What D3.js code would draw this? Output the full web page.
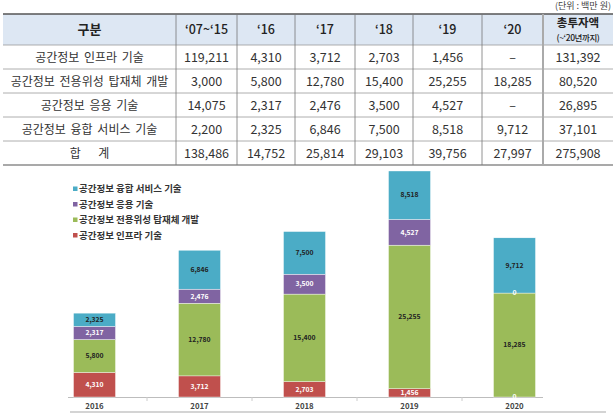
<!DOCTYPE html>
<html><head><meta charset="utf-8">
<script src="https://cdn.jsdelivr.net/npm/d3@7"></script>
<style>body{margin:0;background:#fff;} svg{display:block;font-family:"Noto Sans CJK KR","Noto Sans",sans-serif;}</style>
</head><body>
<svg id="c" width="615" height="419"></svg>
<script>
// ---- Table data ----
const periods = ["‘07~‘15", "‘16", "‘17", "‘18", "‘19", "‘20"];
const rowNames = ["공간정보 인프라 기술", "공간정보 전용위성 탑재체 개발", "공간정보 응용 기술", "공간정보 융합 서비스 기술", "합  계"];
const infraRow = [119211, 4310, 3712, 2703, 1456, null, 131392];
const satRow   = [3000, 5800, 12780, 15400, 25255, 18285, 80520];
const appRow   = [14075, 2317, 2476, 3500, 4527, null, 26895];
const convRow  = [2200, 2325, 6846, 7500, 8518, 9712, 37101];
const totalRow = [138486, 14752, 25814, 29103, 39756, 27997, 275908];

// ---- Chart data ----
const years = ["2016", "2017", "2018", "2019", "2020"];
const infraChart = [4310, 3712, 2703, 1456, 0];
const satChart   = [5800, 12780, 15400, 25255, 18285];
const appChart   = [2317, 2476, 3500, 4527, 0];
const convChart  = [2325, 6846, 7500, 8518, 9712];
const seriesNames = ["공간정보 인프라 기술", "공간정보 전용위성 탑재체 개발", "공간정보 응용 기술", "공간정보 융합 서비스 기술"];
const seriesColors = ["#c0504d", "#9bbb59", "#8064a2", "#4bacc6"];
const labelColors = ["#ffffff", "#222222", "#ffffff", "#222222"];

const svg = d3.select("#c");
const fmt = d3.format(",");

// ===== TABLE =====
svg.append("text").attr("x", 611).attr("y", 9).attr("text-anchor", "end")
  .attr("font-size", 9).attr("fill", "#444").text("(단위 : 백만 원)");

const colEdges = [3, 176, 237, 295, 355, 413, 482, 543, 613];
const rowEdges = [14, 45, 69, 93, 117, 141, 165];

svg.append("rect").attr("x", colEdges[0]).attr("y", rowEdges[0])
  .attr("width", colEdges[colEdges.length - 1] - colEdges[0]).attr("height", rowEdges[1] - rowEdges[0])
  .attr("fill", "#dde7f3");

rowEdges.forEach((y, i) => {
  svg.append("line").attr("x1", colEdges[0]).attr("x2", colEdges[colEdges.length - 1])
    .attr("y1", y).attr("y2", y)
    .attr("stroke", (i === 0 || i === rowEdges.length - 1) ? "#555" : "#999")
    .attr("stroke-width", i === 0 ? 1.6 : (i === rowEdges.length - 1 ? 1.2 : 0.8));
});
colEdges.slice(1, -1).forEach((x, i, arr) => {
  const last = i === arr.length - 1;
  svg.append("line").attr("x1", x).attr("x2", x).attr("y1", rowEdges[0]).attr("y2", rowEdges[rowEdges.length - 1])
    .attr("stroke", last ? "#aaa" : "#777").attr("stroke-width", last ? 2 : 0.8);
});
const cx = i => (colEdges[i] + colEdges[i + 1]) / 2;
const cy = i => (rowEdges[i] + rowEdges[i + 1]) / 2;

svg.append("text").attr("x", cx(0)).attr("y", cy(0) + 4.5).attr("text-anchor", "middle")
  .attr("font-size", 13).attr("font-weight", 700).attr("fill", "#222").text("구분");
periods.forEach((p, i) => {
  svg.append("text").attr("x", cx(i + 1)).attr("y", cy(0) + 4.5).attr("text-anchor", "middle")
    .attr("font-size", 12.5).attr("font-weight", 500).attr("fill", "#222").text(p);
});
svg.append("text").attr("x", cx(7)).attr("y", 27).attr("text-anchor", "middle")
  .attr("font-size", 11.5).attr("font-weight", 700).attr("fill", "#222").text("총투자액");
svg.append("text").attr("x", cx(7)).attr("y", 41).attr("text-anchor", "middle")
  .attr("font-size", 8.5).attr("font-weight", 500).attr("fill", "#222").attr("letter-spacing", -0.4).text("(~‘20년까지)");

const bodyRows = [infraRow, satRow, appRow, convRow, totalRow];
bodyRows.forEach((row, r) => {
  svg.append("text").attr("x", cx(0)).attr("y", cy(r + 1) + 4.5).attr("text-anchor", "middle")
    .attr("font-size", 12).attr("fill", "#333").attr("xml:space", "preserve")
    .attr("word-spacing", r === 4 ? 6 : 2).text(rowNames[r]);
  row.forEach((v, c) => {
    svg.append("text").attr("x", cx(c + 1)).attr("y", cy(r + 1) + 4.5).attr("text-anchor", "middle")
      .attr("font-size", 12.5).attr("fill", "#333").text(v === null ? "–" : fmt(v));
  });
});

// ===== CHART =====
const base = 397;
const x = d3.scaleBand().domain(years).range([42, 567]).paddingInner(0.6).paddingOuter(0.3);
const y = d3.scaleLinear().domain([0, 40000]).range([base, base - 227.4]);

const rows = years.map((yr, i) => ({year: yr, s0: infraChart[i], s1: satChart[i], s2: appChart[i], s3: convChart[i]}));
const layers = d3.stack().keys(["s0", "s1", "s2", "s3"])(rows);

svg.append("line").attr("x1", 68).attr("x2", 543).attr("y1", base + 0.5).attr("y2", base + 0.5)
  .attr("stroke", "#bdbdbd").attr("stroke-width", 1);
years.slice(0, -1).forEach(yr => {
  const tx = x(yr) + x.bandwidth() + x.step() * x.paddingInner() / 2;
  svg.append("line").attr("x1", tx).attr("x2", tx).attr("y1", base).attr("y2", base + 4)
    .attr("stroke", "#ccc").attr("stroke-width", 1);
});

layers.forEach((layer, k) => {
  const g = svg.append("g");
  g.selectAll("rect").data(layer).join("rect")
    .attr("x", d => x(d.data.year)).attr("width", x.bandwidth())
    .attr("y", d => y(d[1])).attr("height", d => y(d[0]) - y(d[1]))
    .attr("fill", seriesColors[k]).attr("stroke", "#fff").attr("stroke-width", 0.4);
});
layers.forEach((layer, k) => {
  svg.append("g").selectAll("text").data(layer).join("text")
    .attr("x", d => x(d.data.year) + x.bandwidth() / 2)
    .attr("y", d => (y(d[0]) + y(d[1])) / 2 + 2.3)
    .attr("text-anchor", "middle").attr("font-size", 6.8).attr("font-weight", 700)
    .attr("fill", labelColors[k]).text(d => fmt(d[1] - d[0]));
});

years.forEach(yr => {
  svg.append("text").attr("x", x(yr) + x.bandwidth() / 2).attr("y", 409).attr("text-anchor", "middle")
    .attr("font-size", 7.8).attr("font-weight", 700).attr("fill", "#444").text(yr);
});
svg.append("line").attr("x1", 70).attr("x2", 606).attr("y1", 412).attr("y2", 412)
  .attr("stroke", "#aaa").attr("stroke-width", 1.2);

const legendOrder = [3, 2, 1, 0];
legendOrder.forEach((k, i) => {
  const ly = 189 + i * 15.5;
  svg.append("rect").attr("x", 73).attr("y", ly - 2.5).attr("width", 4.5).attr("height", 4.5).attr("fill", seriesColors[k]);
  svg.append("text").attr("x", 79).attr("y", ly + 3.2).attr("font-size", 9.5).attr("font-weight", 700)
    .attr("fill", "#333").text(seriesNames[k]);
});
</script>
</body></html>
